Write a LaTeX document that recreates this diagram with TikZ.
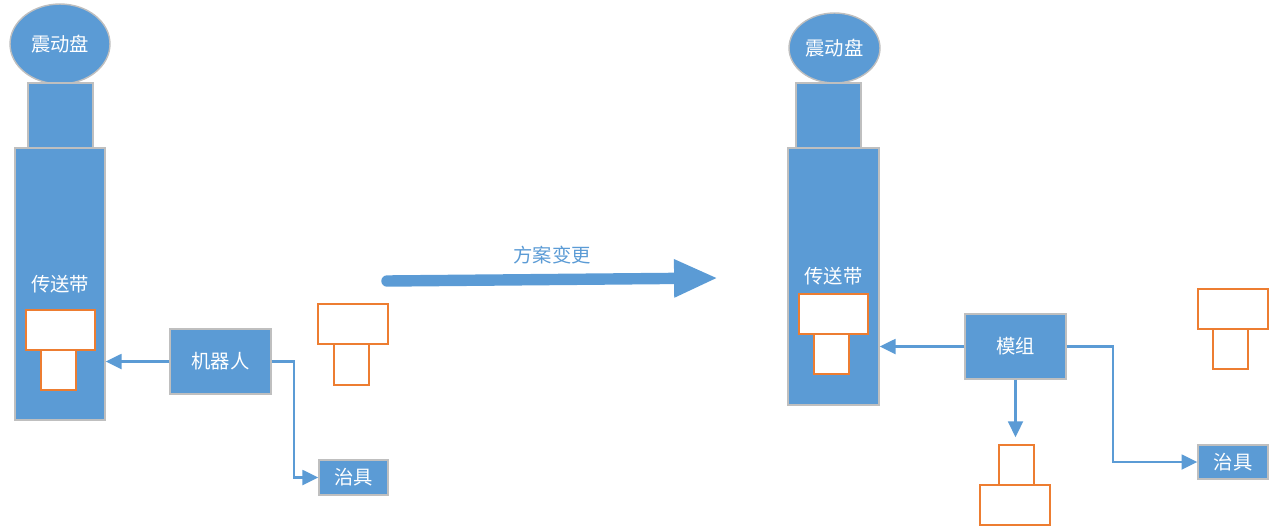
\documentclass[tikz,border=0pt]{standalone}
\usepackage{fontspec}
\newfontfamily\cjk{Noto Sans CJK SC}
\usetikzlibrary{arrows.meta, positioning, shapes.geometric}
\definecolor{boxblue}{HTML}{5B9BD5}
\definecolor{edgegray}{HTML}{BFBFBF}
\definecolor{partorange}{HTML}{ED7D31}

\begin{document}
\begin{tikzpicture}[
    x=0.02cm, y=-0.02cm,
    blk/.style={rectangle, draw=edgegray, fill=boxblue, line width=0.8pt, inner sep=0pt, text=white},
    bowl/.style={ellipse, draw=edgegray, fill=boxblue, line width=0.8pt, inner sep=0pt, text=white},
    part/.style={rectangle, draw=partorange, fill=white, line width=0.9pt, inner sep=0pt},
    arrow/.style={-{Triangle[length=9pt, width=8.5pt]}, draw=boxblue, line width=1.2pt},
    bigarrow/.style={-{Triangle[length=25pt, width=20pt]}, draw=boxblue, line width=6.5pt, line cap=round},
	font=\cjk\fontsize{11}{13}\selectfont
]
\useasboundingbox (0,0) rectangle (1278,529);

% Before: feeder, conveyor, robot
\node[bowl, minimum width=2cm, minimum height=1.6cm] (bowl1) at (60,44) {震动盘};
\node[blk, minimum width=1.3cm, minimum height=1.3cm] (neck1) at (60.5,115.5) {};
\node[blk, minimum width=1.8cm, minimum height=5.44cm] (belt1) at (60,284) {传送带};
\node[part, minimum width=1.38cm, minimum height=0.8cm] (pt1a) at (60.5,330) {};
\node[part, minimum width=0.7cm, minimum height=0.8cm] (pt1b) at (58.5,370) {};
\node[blk, minimum width=2.02cm, minimum height=1.3cm] (robot) at (220.5,361.5) {机器人};
\node[blk, minimum width=1.38cm, minimum height=0.7cm] (jig1) at (353.5,477.5) {治具};
\node[part, minimum width=1.4cm, minimum height=0.8cm] (pt2a) at (353,324) {};
\node[part, minimum width=0.7cm, minimum height=0.82cm] (pt2b) at (351.5,364.5) {};

% Arrows
\draw[arrow] (robot.west) -- (robot.west -| belt1.east);
\draw[arrow] (robot.east) -- ++(22,0) |- (jig1.west);

% Change of plan
\coordinate (chgtail) at (387,281);
\coordinate (chghead) at (718,278);
\draw[bigarrow] (chgtail) -- (chghead);
\node[text=boxblue] (chglbl) at (552,255) {方案变更};

% After: feeder, conveyor, module
\node[bowl, minimum width=1.82cm, minimum height=1.4cm] (bowl2) at (834.5,48) {震动盘};
\node[blk, minimum width=1.3cm, minimum height=1.3cm] (neck2) at (828.5,115.5) {};
\node[blk, minimum width=1.82cm, minimum height=5.14cm] (belt2) at (833.5,276.5) {传送带};
\node[part, minimum width=1.38cm, minimum height=0.8cm] (pt3a) at (833.5,314) {};
\node[part, minimum width=0.7cm, minimum height=0.8cm] (pt3b) at (831.5,354) {};
\node[blk, minimum width=2.02cm, minimum height=1.3cm] (mod) at (1015.5,346.5) {模组};
\node[part, minimum width=0.7cm, minimum height=0.8cm] (pt4b) at (1016.5,465) {};
\node[part, minimum width=1.4cm, minimum height=0.8cm] (pt4a) at (1015,505) {};
\node[blk, minimum width=1.4cm, minimum height=0.68cm] (jig2) at (1233,462) {治具};
\node[part, minimum width=1.4cm, minimum height=0.8cm] (pt5a) at (1233,309) {};
\node[part, minimum width=0.7cm, minimum height=0.8cm] (pt5b) at (1230.5,349) {};

\draw[arrow] (mod.west) -- (mod.west -| belt2.east);
\draw[arrow, shorten >=4pt] (mod.south) -- (mod.south |- pt4b.north);
\draw[arrow] (mod.east) -- ++(46,0) |- (jig2.west);

\end{tikzpicture}
\end{document}
